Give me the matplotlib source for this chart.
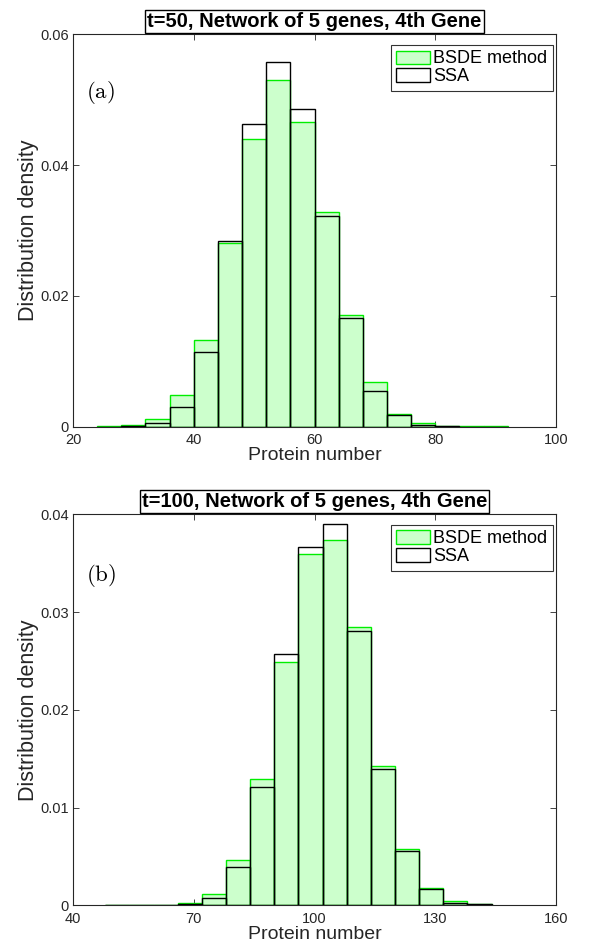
import matplotlib
matplotlib.use("Agg")
import matplotlib.pyplot as plt
import numpy as np

plt.rcParams['font.family'] = ['Liberation Sans', 'DejaVu Sans']
plt.rcParams['mathtext.fontset'] = 'cm'

# ---- Data: panel (a), t=50 ----
a_edges_left = [24, 28, 32, 36, 40, 44, 48, 52, 56, 60, 64, 68, 72, 76, 80, 84, 88]
a_width = 4
a_bsde = [0.00008, 0.0003, 0.00122, 0.0048, 0.0133, 0.0281, 0.04394, 0.05296, 0.04654,
          0.03278, 0.01707, 0.0069, 0.0020, 0.0005, 0.00005, 0.00005, 0.00005]
a_ssa = [0.0, 0.00005, 0.00056, 0.00306, 0.01137, 0.02835, 0.04624, 0.05576, 0.04853,
         0.03217, 0.01667, 0.0055, 0.0018, 0.0003, 0.00015, 0.0, 0.0]

# ---- Data: panel (b), t=100 ----
b_edges_left = [48, 54, 60, 66, 72, 78, 84, 90, 96, 102, 108, 114, 120, 126, 132, 138]
b_width = 6
b_bsde = [0.00003, 0.00003, 0.00005, 0.00024, 0.0012, 0.00464, 0.01293, 0.0249, 0.03592,
          0.03732, 0.02849, 0.01421, 0.00576, 0.00177, 0.00041, 0.00014]
b_ssa = [0.0, 0.0, 0.0, 0.00014, 0.00072, 0.00392, 0.01211, 0.02573, 0.03664,
         0.03902, 0.02805, 0.0139, 0.00555, 0.00167, 0.00027, 0.0001]

panels = [
    dict(title="t=50, Network of 5 genes, 4th Gene", label="(a)", label_y=0.852,
         left=a_edges_left, width=a_width, bsde=a_bsde, ssa=a_ssa,
         xlim=(20, 100), xticks=[20, 40, 60, 80, 100],
         ylim=(0, 0.06), yticks=[0, 0.02, 0.04, 0.06], ylabels=["0", "0.02", "0.04", "0.06"],
         rect=[73/601, 1 - 426.7/948, 483/601, 392.4/948]),
    dict(title="t=100, Network of 5 genes, 4th Gene", label="(b)", label_y=0.843,
         left=b_edges_left, width=b_width, bsde=b_bsde, ssa=b_ssa,
         xlim=(40, 160), xticks=[40, 70, 100, 130, 160],
         ylim=(0, 0.04), yticks=[0, 0.01, 0.02, 0.03, 0.04],
         ylabels=["0", "0.01", "0.02", "0.03", "0.04"],
         rect=[73/601, 1 - 905.3/948, 483/601, 391/948]),
]

fig = plt.figure(figsize=(6.01, 9.48), dpi=100)
axcol = '#262626'

for p in panels:
    ax = fig.add_axes(p['rect'])
    ax.bar(p['left'], p['bsde'], width=p['width'], align='edge',
           facecolor='#ccffcc', edgecolor='#00ee00', linewidth=1.0, label='BSDE method', zorder=2)
    ax.bar(p['left'], p['ssa'], width=p['width'], align='edge',
           facecolor='none', edgecolor='black', linewidth=1.0, label='SSA', zorder=3)
    ax.set_xlim(*p['xlim'])
    ax.set_ylim(*p['ylim'])
    ax.set_xticks(p['xticks'])
    ax.set_xticklabels([str(v) for v in p['xticks']])
    ax.set_yticks(p['yticks'])
    ax.set_yticklabels(p['ylabels'])
    ax.tick_params(direction='in', top=True, right=True, length=4, width=0.6,
                   labelsize=10.5, colors=axcol)
    ax.tick_params(axis='x', pad=4.5)
    ax.tick_params(axis='y', pad=3)
    for s in ax.spines.values():
        s.set_color(axcol)
        s.set_linewidth(0.8)
    ax.set_xlabel("Protein number", fontsize=14, color=axcol, labelpad=0)
    ax.set_ylabel("Distribution density", fontsize=15.5, color=axcol, labelpad=1)
    ax.text(0.5, 1.0 + 3/392, p['title'], transform=ax.transAxes, ha='center', va='bottom',
            fontsize=14.5, fontweight='bold', color='black',
            bbox=dict(facecolor='white', edgecolor='black', linewidth=1.0, pad=1.5))
    ax.text(0.027, p['label_y'], r'$\mathrm{' + p['label'] + '}$', transform=ax.transAxes,
            ha='left', va='center', fontsize=16.5, color='black')
    leg = ax.legend(loc='upper right', bbox_to_anchor=(0.9938, 0.9727), borderaxespad=0,
                    fontsize=13, frameon=True, fancybox=False, edgecolor='black',
                    handlelength=1.85, handleheight=0.75, handletextpad=0.2,
                    borderpad=0.3, labelspacing=0.05)
    leg.get_frame().set_linewidth(0.8)

fig.savefig("out.png", dpi=100)
